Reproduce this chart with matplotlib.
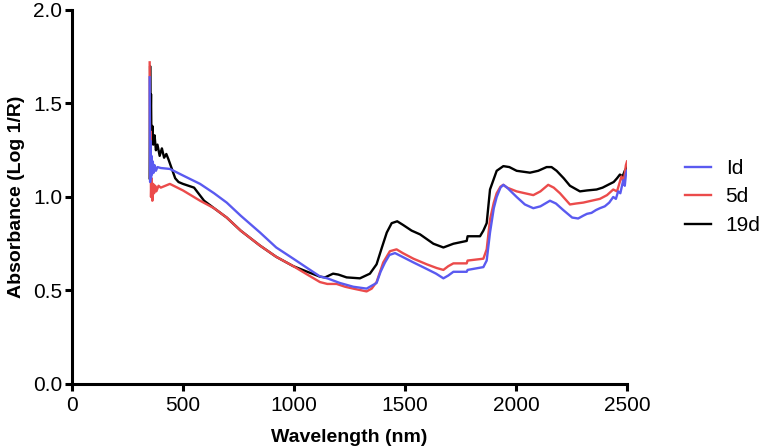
import matplotlib.pyplot as plt

# values (wavelength nm, absorbance log 1/R)
wl_1d = [350, 352, 354, 356, 358, 360, 364, 368, 372, 378, 385, 400, 441, 500, 577, 640, 697, 760, 847, 920,
         997, 1060, 1117, 1150, 1207, 1267, 1327, 1372, 1390, 1410, 1430, 1455, 1480, 1538, 1598, 1640, 1673,
         1695, 1718, 1778, 1782, 1853, 1868, 1883, 1900, 1913, 1930, 1943, 1960, 2003, 2040, 2078, 2110, 2153,
         2180, 2213, 2253, 2280, 2303, 2320, 2340, 2360, 2378, 2400, 2420, 2438, 2450, 2460, 2470, 2483, 2490,
         2495, 2500]
abs_1d = [1.64, 1.08, 1.30, 1.10, 1.22, 1.12, 1.19, 1.13, 1.17, 1.14, 1.16, 1.155, 1.15, 1.115, 1.07, 1.02, 0.97,
          0.90, 0.81, 0.73, 0.67, 0.62, 0.575, 0.565, 0.54, 0.52, 0.51, 0.54, 0.60, 0.65, 0.69, 0.70, 0.685, 0.65,
          0.615, 0.59, 0.565, 0.58, 0.60, 0.60, 0.61, 0.625, 0.66, 0.81, 0.94, 1.00, 1.05, 1.065, 1.05, 1.00, 0.96,
          0.94, 0.95, 0.98, 0.965, 0.93, 0.89, 0.885, 0.90, 0.91, 0.915, 0.93, 0.94, 0.95, 0.97, 1.00, 0.99, 1.03,
          1.02, 1.09, 1.06, 1.12, 1.14]

wl_5d = [350, 352, 354, 356, 358, 362, 366, 370, 375, 380, 390, 400, 441, 500, 577, 640, 697, 760, 847, 920,
         997, 1060, 1117, 1150, 1192, 1230, 1267, 1327, 1350, 1372, 1402, 1432, 1462, 1490, 1538, 1598, 1643,
         1673, 1695, 1718, 1778, 1782, 1853, 1868, 1883, 1900, 1913, 1930, 1943, 1960, 2003, 2040, 2078, 2110,
         2145, 2170, 2198, 2243, 2270, 2303, 2340, 2378, 2410, 2438, 2455, 2475, 2485, 2495, 2500]
abs_5d = [1.72, 1.10, 1.35, 1.00, 1.10, 0.98, 1.07, 1.02, 1.06, 1.03, 1.06, 1.05, 1.07, 1.035, 0.98, 0.94, 0.89,
          0.82, 0.74, 0.68, 0.63, 0.585, 0.545, 0.535, 0.535, 0.52, 0.51, 0.495, 0.51, 0.545, 0.65, 0.71, 0.72,
          0.70, 0.67, 0.64, 0.62, 0.61, 0.63, 0.645, 0.645, 0.66, 0.67, 0.72, 0.88, 0.97, 1.02, 1.055, 1.065, 1.05,
          1.03, 1.02, 1.01, 1.03, 1.065, 1.05, 1.02, 0.96, 0.965, 0.97, 0.98, 0.99, 1.01, 1.04, 1.03, 1.11, 1.08,
          1.17, 1.19]

wl_19d = [350, 352, 354, 356, 358, 362, 366, 372, 378, 385, 395, 405, 415, 425, 435, 450, 465, 480, 500, 550,
          595, 640, 697, 760, 847, 920, 997, 1060, 1117, 1140, 1176, 1200, 1237, 1297, 1342, 1372, 1396, 1418,
          1440, 1465, 1492, 1530, 1568, 1628, 1673, 1718, 1778, 1782, 1838, 1853, 1868, 1883, 1913, 1943, 1970,
          2003, 2063, 2100, 2138, 2160, 2183, 2215, 2243, 2288, 2320, 2363, 2390, 2423, 2440, 2455, 2468, 2480,
          2490, 2500]
abs_19d = [1.10, 1.70, 1.40, 1.55, 1.30, 1.38, 1.28, 1.33, 1.25, 1.28, 1.22, 1.26, 1.21, 1.23, 1.20, 1.15, 1.10,
           1.08, 1.07, 1.05, 0.98, 0.94, 0.89, 0.82, 0.74, 0.68, 0.63, 0.60, 0.574, 0.57, 0.59, 0.585, 0.57, 0.565,
           0.59, 0.64, 0.73, 0.81, 0.86, 0.87, 0.85, 0.82, 0.80, 0.75, 0.73, 0.75, 0.765, 0.79, 0.79, 0.82, 0.86,
           1.04, 1.14, 1.165, 1.16, 1.14, 1.13, 1.14, 1.16, 1.16, 1.14, 1.10, 1.06, 1.03, 1.035, 1.04, 1.05, 1.07,
           1.08, 1.10, 1.12, 1.11, 1.14, 1.16]

labels = ['Id', '5d', '19d']
colors = ['#5A5AF0', '#EB4B4B', '#000000']

plt.rcParams['font.family'] = ['Liberation Sans', 'DejaVu Sans']

fig = plt.figure(figsize=(7.6, 4.48), dpi=100)
ax = fig.add_axes([0.0947, 0.1429, 0.7303, 0.8348])

series = [(wl_1d, abs_1d), (wl_5d, abs_5d), (wl_19d, abs_19d)]
zorders = [4, 3, 2]
for (x, y), lab, col, z in zip(series, labels, colors, zorders):
    ax.plot(x, y, color=col, lw=1.7, label=lab, zorder=z)

ax.set_xlim(0, 2500)
ax.set_ylim(0, 2.0)
ax.set_xticks([0, 500, 1000, 1500, 2000, 2500])
ax.set_yticks([0.0, 0.5, 1.0, 1.5, 2.0])
ax.set_yticklabels(['0.0', '0.5', '1.0', '1.5', '2.0'])

for s in ['top', 'right']:
    ax.spines[s].set_visible(False)
for s in ['left', 'bottom']:
    ax.spines[s].set_linewidth(2.2)
ax.tick_params(direction='out', length=5, width=2.2, labelsize=15)
ax.tick_params(axis='x', pad=4)
ax.tick_params(axis='y', pad=2)

ax.set_xlabel('Wavelength (nm)', fontsize=14, fontweight='bold', labelpad=10)
ax.set_ylabel('Absorbance (Log 1/R)', fontsize=14, fontweight='bold', labelpad=6)

ax.legend(loc='center left', bbox_to_anchor=(1.1045, 0.5), frameon=False, fontsize=15,
          handlelength=1.25, handletextpad=0.7, labelspacing=0.45, borderpad=0, borderaxespad=0)

plt.savefig('out.png', dpi=100)
